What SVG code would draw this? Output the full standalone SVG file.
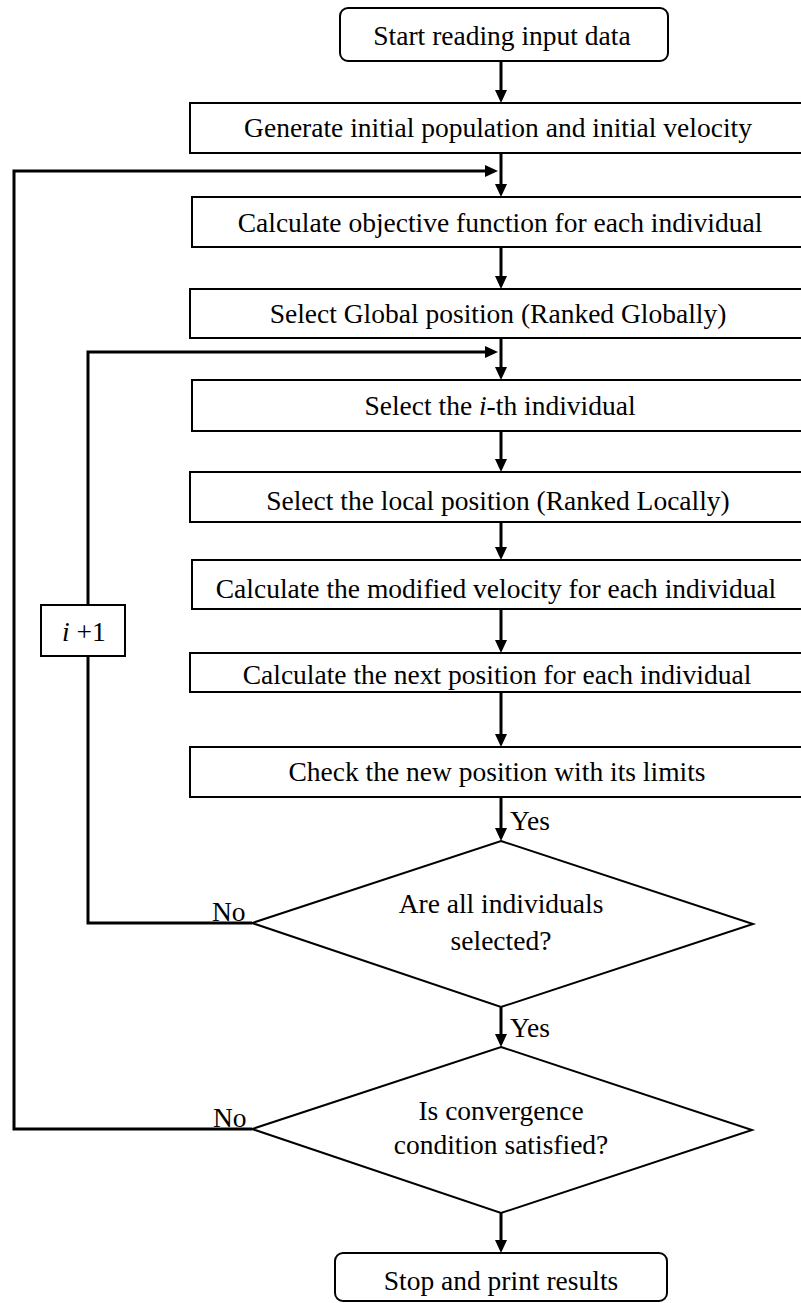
<svg xmlns="http://www.w3.org/2000/svg" width="801" height="1303" viewBox="0 0 801 1303">
  <defs>
    <style>
      .box { fill: #fff; stroke: #000; stroke-width: 2; }
      .dia { fill: #fff; stroke: #000; stroke-width: 2; stroke-linejoin: miter; }
      .lbl { font-family: "Liberation Serif", "Times New Roman", serif; font-size: 27.5px; fill: #000; }
      .mid { text-anchor: middle; }
      .flow { fill: none; stroke: #000; stroke-width: 3; stroke-linejoin: miter; }
    </style>
    <!-- filled arrowhead; the line stops 8px short of the tip -->
    <marker id="arrow" markerUnits="userSpaceOnUse" markerWidth="13" markerHeight="12" refX="5" refY="6" orient="auto">
      <path d="M0,0 L13,6 L0,12 z" fill="#000"/>
    </marker>
  </defs>

  <rect width="801" height="1303" fill="#fff"/>

  <g id="connectors">
    <path class="flow" d="M501,61 V95" marker-end="url(#arrow)"/>
    <path class="flow" d="M501,153 V189" marker-end="url(#arrow)"/>
    <path class="flow" d="M501,247 V281" marker-end="url(#arrow)"/>
    <path class="flow" d="M501,338 V372" marker-end="url(#arrow)"/>
    <path class="flow" d="M501,431 V464" marker-end="url(#arrow)"/>
    <path class="flow" d="M501,522 V552" marker-end="url(#arrow)"/>
    <path class="flow" d="M501,609 V645" marker-end="url(#arrow)"/>
    <path class="flow" d="M501,692 V739" marker-end="url(#arrow)"/>
    <path class="flow" d="M501,797 V833" marker-end="url(#arrow)"/>
    <path class="flow" d="M501,1007 V1039" marker-end="url(#arrow)"/>
    <path class="flow" d="M501,1213 V1245" marker-end="url(#arrow)"/>
    <!-- outer loop: convergence not reached -->
    <path class="flow" d="M252,1129 H14 V171 H490" marker-end="url(#arrow)"/>
    <!-- inner loop: next individual -->
    <path class="flow" d="M252,923 H88 V656"/>
    <path class="flow" d="M88,605 V352 H490" marker-end="url(#arrow)"/>
  </g>

  <g id="start">
    <rect class="box" x="340" y="8" width="328" height="53" rx="8"/>
    <text class="lbl mid" x="502" y="45">Start reading input data</text>
  </g>

  <g id="generate">
    <rect class="box" x="190" y="103" width="630" height="50"/>
    <text class="lbl mid" x="498" y="137">Generate initial population and initial velocity</text>
  </g>

  <g id="objective">
    <rect class="box" x="192" y="197" width="630" height="50"/>
    <text class="lbl mid" x="500" y="232">Calculate objective function for each individual</text>
  </g>

  <g id="global">
    <rect class="box" x="190" y="289" width="630" height="49"/>
    <text class="lbl mid" x="498" y="323">Select Global position (Ranked Globally)</text>
  </g>

  <g id="select-i">
    <rect class="box" x="192" y="380" width="630" height="51"/>
    <text class="lbl mid" x="500" y="415">Select the <tspan font-style="italic">i</tspan>-th individual</text>
  </g>

  <g id="local">
    <rect class="box" x="190" y="472" width="630" height="50"/>
    <text class="lbl mid" x="498" y="510">Select the local position (Ranked Locally)</text>
  </g>

  <g id="velocity">
    <rect class="box" x="192" y="560" width="630" height="49"/>
    <text class="lbl mid" x="496" y="598">Calculate the modified velocity for each individual</text>
  </g>

  <g id="next-position">
    <rect class="box" x="190" y="653" width="630" height="39"/>
    <text class="lbl mid" x="497" y="684">Calculate the next position for each individual</text>
  </g>

  <g id="limits">
    <rect class="box" x="190" y="747" width="630" height="50"/>
    <text class="lbl mid" x="497" y="781">Check the new position with its limits</text>
  </g>

  <g id="all-selected">
    <polygon class="dia" points="501,841 753,924 501,1007 252,923"/>
    <text class="lbl mid" x="501" y="913">Are all individuals</text>
    <text class="lbl mid" x="501" y="950">selected?</text>
    <text class="lbl" x="510" y="830">Yes</text>
    <text class="lbl" x="212" y="921">No</text>
  </g>

  <g id="converged">
    <polygon class="dia" points="501,1047 752,1130 501,1213 252,1129"/>
    <text class="lbl mid" x="501" y="1120">Is convergence</text>
    <text class="lbl mid" x="501" y="1154">condition satisfied?</text>
    <text class="lbl" x="510" y="1037">Yes</text>
    <text class="lbl" x="213" y="1127">No</text>
  </g>

  <g id="increment">
    <rect class="box" x="41" y="605" width="84" height="51"/>
    <text class="lbl" x="62" y="641"><tspan font-style="italic">i</tspan> +1</text>
  </g>

  <g id="stop">
    <rect class="box" x="335" y="1253" width="332" height="48" rx="8"/>
    <text class="lbl mid" x="501" y="1290">Stop and print results</text>
  </g>
</svg>
